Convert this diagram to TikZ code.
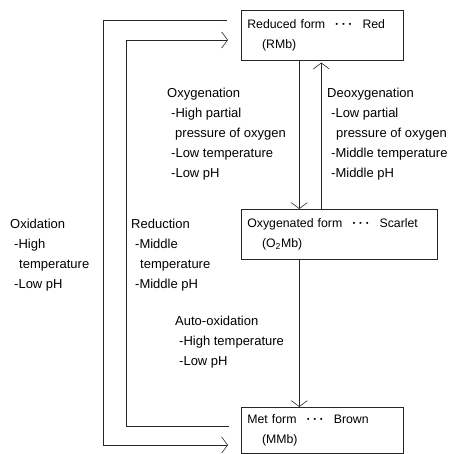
\documentclass[tikz,border=0pt]{standalone}
\usepackage{fontspec}
\setmainfont{Liberation Sans}
\usetikzlibrary{arrows.meta}

\newcommand{\dotsep}{\hspace{10pt}{\bfseries·\kern2.5pt·\kern2.5pt·}\hspace{10pt}}

\tikzset{
  formbox/.style={draw=black!85, line width=0.6pt, inner xsep=6pt, inner ysep=0pt, anchor=north west,
    minimum height=50pt, align=left, font=\fontsize{12.3}{20}\selectfont},
  cond/.style={anchor=north west, inner sep=0pt, align=left, font=\fontsize{13}{20}\selectfont},
  flow/.style={draw=black!85, line width=0.6pt, -{Straight Barb[length=6pt,width=16pt,line width=0.6pt]}},
}

\begin{document}
\begin{tikzpicture}[x=1pt, y=-1pt]
	\useasboundingbox (0,0) rectangle (457,454);
	% the three forms
	\node[formbox, minimum width=162pt, text width=150pt] (rmb) at (241,10) {Reduced form\dotsep Red\\\hspace{1.2em}(RMb)};
	\node[formbox, minimum width=196pt, text width=184pt] (oxy) at (241,209) {Oxygenated form\dotsep Scarlet\\\hspace{1.2em}(O\textsubscript{2}Mb)};
	\node[formbox, minimum width=162pt, minimum height=46pt, text width=150pt] (met) at (241,407) {Met form\dotsep Brown\\\hspace{1.2em}(MMb)};

	% conditions
	\node[cond] (oxygenation) at (167,88) {Oxygenation\\ \hspace{4pt}-High partial\\ \hspace{8pt}pressure of oxygen\\ \hspace{4pt}-Low temperature\\ \hspace{4pt}-Low pH};
	\node[cond] (deoxygenation) at (327,88) {Deoxygenation\\ \hspace{4pt}-Low partial\\ \hspace{9pt}pressure of oxygen\\ \hspace{4pt}-Middle temperature\\ \hspace{4pt}-Middle pH};
	\node[cond] (oxidation) at (10,219) {Oxidation\\ \hspace{4pt}-High\\ \hspace{9pt}temperature\\ \hspace{4pt}-Low pH};
	\node[cond] (reduction) at (131,219) {Reduction\\ \hspace{4pt}-Middle\\ \hspace{9pt}temperature\\ \hspace{4pt}-Middle pH};
	\node[cond] (autoox) at (175,316) {Auto-oxidation\\ \hspace{4pt}-High temperature\\ \hspace{4pt}-Low pH};

	% oxidation and reduction loops
	\coordinate (oxcorner) at (103,445);
	\coordinate (redcorner) at (126,40);
	\draw[flow] ([xshift=-14pt,yshift=-10pt]rmb.north west) -| (oxcorner) -- ([xshift=-13pt]met.west |- oxcorner);
	\draw[flow] ([xshift=-12pt,yshift=-19pt]met.north west) -| (redcorner) -- ([xshift=-13pt]rmb.west |- redcorner);

	% oxygenation, deoxygenation, auto-oxidation
	\draw[flow] ([xshift=-23pt]rmb.south) -- ([xshift=-23pt]rmb.south |- oxy.north);
	\draw[flow] ([xshift=-1pt]rmb.south |- oxy.north) -- ([xshift=-1pt,yshift=-2pt]rmb.south);
	\draw[flow] ([xshift=-23pt]rmb.south |- oxy.south) -- ([xshift=-23pt]rmb.south |- met.north);
\end{tikzpicture}
\end{document}
